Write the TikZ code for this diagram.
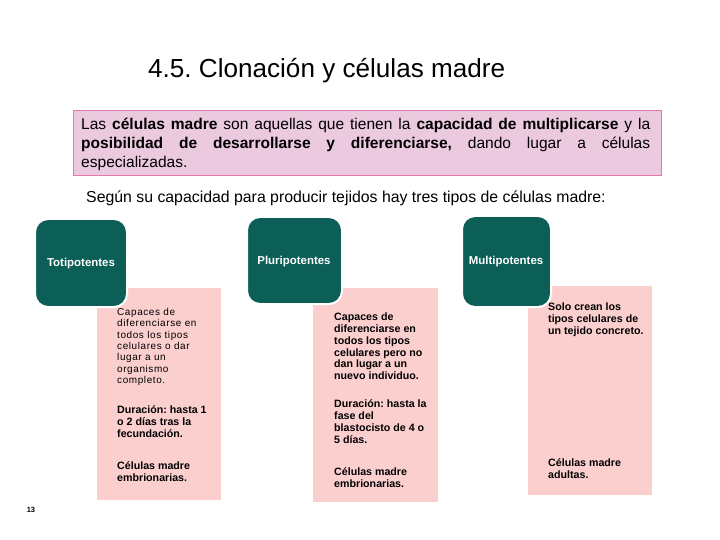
\documentclass[tikz,border=0pt]{standalone}
\usepackage{fontspec}
\setmainfont{Liberation Sans}
\usetikzlibrary{positioning}
\definecolor{verde}{HTML}{0B5F57}
\definecolor{rosa}{HTML}{FCCFCF}
\definecolor{malva}{HTML}{EBC9DF}
\definecolor{borde}{HTML}{E07AAE}
\frenchspacing

\tikzset{
  tipo/.style={fill=verde, draw=white, line width=2bp, rounded corners=13bp},
  etiqueta/.style={text=white, font=\fontsize{11.5}{13}\selectfont\bfseries},
  texto/.style={anchor=north west, align=left, inner sep=0pt,
    font=\fontsize{10.7}{12}\selectfont\bfseries},
}

\begin{document}
\begin{tikzpicture}[x=1bp, y=-1bp]
    \useasboundingbox (0,0) rectangle (720,540);

    % titulo
    \node[anchor=base west, inner sep=0pt, font=\fontsize{26.2}{30}\selectfont] (titulo) at (148,78)
        {4.5. Clonación y células madre};

    % definicion
    \node[fill=malva, draw=borde, line width=0.8bp, anchor=north west, minimum width=588bp,
          minimum height=65bp] (marco) at (73,110) {};
    \node[anchor=north west, inner sep=0pt, text width=569bp, align=justify,
          font=\fontsize{15.6}{19}\selectfont] (definicion) at (81,115.7)
        {\strut Las \textbf{células madre} son aquellas que tienen la \textbf{capacidad de multiplicarse} y la\linebreak
         \textbf{posibilidad de desarrollarse y diferenciarse,} dando lugar a células\linebreak
         especializadas.};

    \node[anchor=base west, inner sep=0pt, font=\fontsize{15.9}{18}\selectfont] (intro) at (86,203)
        {Según su capacidad para producir tejidos hay tres tipos de células madre:};

    % columnas rosas
    \fill[rosa] (97,288) rectangle (221,500);
    \fill[rosa] (313,288) rectangle (438,502);
    \fill[rosa] (528,286) rectangle (652,495);

    % cajas de tipos
    \draw[tipo] (35,219) rectangle (127,307);
    \draw[tipo] (247,217) rectangle (342,304);
    \draw[tipo] (462,216) rectangle (551,307);
    \node[etiqueta] (toti) at (81,264) {Totipotentes};
    \node[etiqueta] (pluri) at (294,262) {Pluripotentes};
    \node[etiqueta] (multi) at (506,262) {Multipotentes};

    % textos totipotentes
    \node[texto, font=\fontsize{10}{11.5}\selectfont\addfontfeatures{LetterSpace=6}] (toti1) at (117,306.9)
        {\strut Capaces de\\diferenciarse en\\todos los tipos\\celulares o dar\\lugar a un\\organismo\\completo.};
    \node[texto] (toti2) at (117,404.6) {\strut Duración: hasta 1\\o 2 días tras la\\fecundación.};
    \node[texto] (toti3) at (117,460.6) {\strut Células madre\\embrionarias.};

    % textos pluripotentes
    \node[texto] (pluri1) at (334,311.6)
        {\strut Capaces de\\diferenciarse en\\todos los tipos\\celulares pero no\\dan lugar a un\\nuevo individuo.};
    \node[texto] (pluri2) at (334,398.6) {\strut Duración: hasta la\\fase del\\blastocisto de 4 o\\5 días.};
    \node[texto] (pluri3) at (334,466.6) {\strut Células madre\\embrionarias.};

    % textos multipotentes
    \node[texto] (multi1) at (548,301.6) {\strut Solo crean los\\tipos celulares de\\un tejido concreto.};
    \node[texto] (multi2) at (548,457.6) {\strut Células madre\\adultas.};

    % numero de pagina
    \node[font=\fontsize{7.5}{9}\selectfont\bfseries] (pagina) at (31,510) {13};
\end{tikzpicture}
\end{document}
